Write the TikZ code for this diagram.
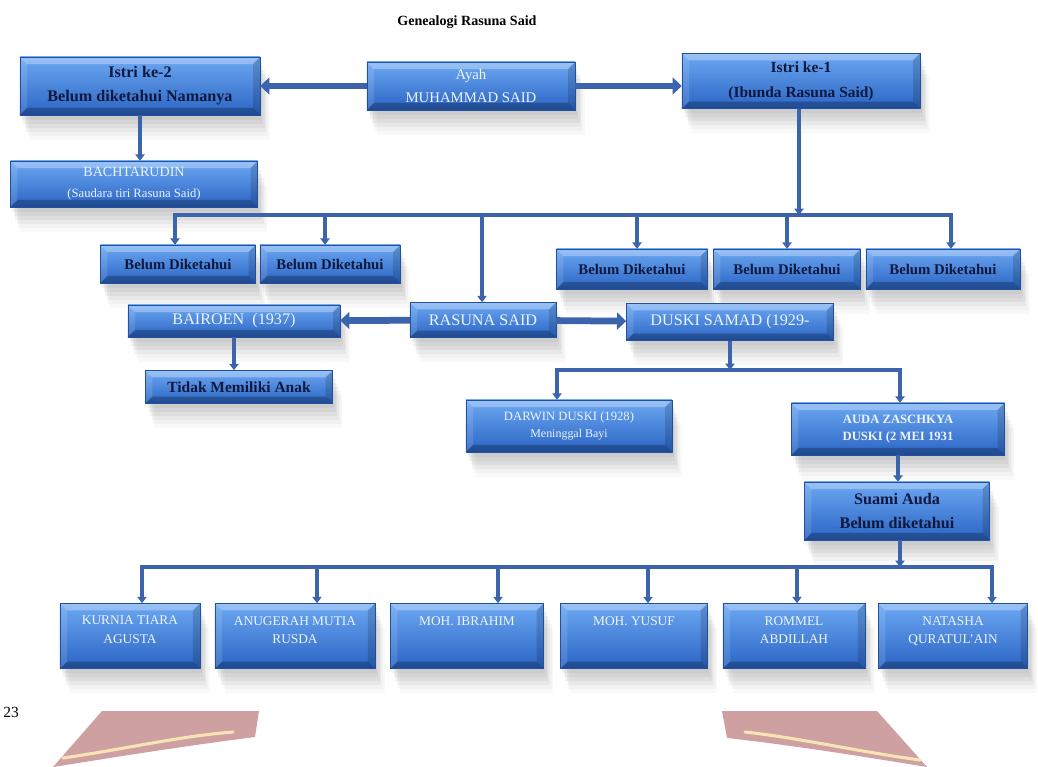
\documentclass[tikz,border=0pt]{standalone}
\usepackage{fontspec}
\setmainfont{Liberation Serif}
\usetikzlibrary{arrows.meta,shadows}
\definecolor{boxtop}{RGB}{108,168,242}
\definecolor{boxbot}{RGB}{42,100,196}
\definecolor{navy}{RGB}{16,24,62}
\definecolor{pale}{RGB}{238,243,252}
\definecolor{linkblue}{RGB}{60,100,172}
\definecolor{rose}{RGB}{206,160,162}
\definecolor{cream}{RGB}{246,228,180}
\newcommand{\bevel}{%
  \path (path picture bounding box.north west) coordinate (nw)
        (path picture bounding box.north east) coordinate (ne)
        (path picture bounding box.south west) coordinate (sw)
        (path picture bounding box.south east) coordinate (se);
  \fill[white,opacity=.3] (nw) -- (ne) -- ([shift={(-5pt,-5pt)}]ne) -- ([shift={(5pt,-5pt)}]nw) -- cycle;
  \fill[black,opacity=.25] (sw) -- (se) -- ([shift={(-5pt,5pt)}]se) -- ([shift={(5pt,5pt)}]sw) -- cycle;
  \fill[white,opacity=.12] (nw) -- ([shift={(5pt,-5pt)}]nw) -- ([shift={(5pt,5pt)}]sw) -- (sw) -- cycle;
  \fill[black,opacity=.15] (ne) -- ([shift={(-5pt,-5pt)}]ne) -- ([shift={(-5pt,5pt)}]se) -- (se) -- cycle;}

\begin{document}
\begin{tikzpicture}[x=0.025cm,y=-0.025cm,
    blk/.style={rectangle,inner sep=0pt,align=center,top color=boxtop,bottom color=boxbot,
      draw=boxbot!80!black,line width=.3pt,path picture={\bevel},
      drop shadow={shadow xshift=.04cm,shadow yshift=-.12cm,fill=black!60,opacity=.08},
      drop shadow={shadow xshift=.08cm,shadow yshift=-.22cm,fill=black!60,opacity=.08},
      drop shadow={shadow xshift=.12cm,shadow yshift=-.32cm,fill=black!60,opacity=.08},
      drop shadow={shadow xshift=.16cm,shadow yshift=-.42cm,fill=black!60,opacity=.07},
      drop shadow={shadow xshift=.2cm,shadow yshift=-.52cm,fill=black!60,opacity=.05},
      drop shadow={shadow xshift=.24cm,shadow yshift=-.62cm,fill=black!60,opacity=.04}},
    dk/.style={blk,text=navy,font=\bfseries\fontsize{10.5}{16}\selectfont},
    lt/.style={blk,text=pale,font=\fontsize{11}{15}\selectfont},
    kid/.style={lt,minimum height=1.63cm},
    kidtxt/.style={anchor=north,yshift=-.2cm,text=pale,align=center,font=\fontsize{9.5}{13.5}\selectfont},
    link/.style={draw=linkblue,line width=2.6pt,-{Triangle[width=6.5pt,length=4.5pt]}},
    bar/.style={draw=linkblue,line width=3.4pt,line cap=rect},
    fat/.style={draw=linkblue,line width=4.8pt,-{Triangle[width=12pt,length=6.5pt]}}]
            \useasboundingbox (0,0) rectangle (1038,767);

            \node[font=\bfseries\fontsize{10}{12}\selectfont] (T) at (467,22) {Genealogi Rasuna Said};
            \node[font=\fontsize{11}{13}\selectfont] (N) at (11,712) {23};

            \node[dk,minimum width=6cm,minimum height=1.45cm,font=\bfseries\fontsize{11.5}{17}\selectfont] (I2) at (140,86) {Istri ke-2\\Belum diketahui Namanya};
            \node[lt,minimum width=5.2cm,minimum height=1.2cm,font=\fontsize{10.5}{16}\selectfont] (AY) at (471,86) {Ayah\\MUHAMMAD SAID};
            \node[dk,minimum width=5.95cm,minimum height=1.38cm,font=\bfseries\fontsize{11}{18}\selectfont] (I1) at (801,81) {Istri ke-1\\(Ibunda Rasuna Said)};
            \node[lt,minimum width=6.18cm,minimum height=1.15cm,font=\fontsize{10}{15}\selectfont] (BA) at (134,184) {BACHTARUDIN\\{\fontsize{9}{15}\selectfont(Saudara tiri Rasuna Said)}};

            \node[dk,minimum width=3.88cm,minimum height=.95cm] (B1) at (178,264) {Belum Diketahui};
            \node[dk,minimum width=3.5cm,minimum height=.95cm] (B2) at (330,264) {Belum Diketahui};
            \node[dk,minimum width=3.78cm,minimum height=1cm] (B3) at (632,269) {Belum Diketahui};
            \node[dk,minimum width=3.68cm,minimum height=1cm] (B4) at (787,269) {Belum Diketahui};
            \node[dk,minimum width=3.85cm,minimum height=1cm] (B5) at (943,269) {Belum Diketahui};

            \node[lt,minimum width=3.65cm,minimum height=.88cm,font=\fontsize{11.5}{14}\selectfont] (RS) at (483,320) {RASUNA SAID};
            \node[lt,minimum width=5.3cm,minimum height=.8cm,font=\fontsize{11.5}{14}\selectfont] (BR) at (234,321) {BAIROEN\ \ (1937)};
            \node[dk,minimum width=4.68cm,minimum height=.83cm,font=\bfseries\fontsize{11}{14}\selectfont] (TM) at (239,387) {Tidak Memiliki Anak};
            \node[lt,minimum width=5.18cm,minimum height=.93cm,font=\fontsize{11.5}{14}\selectfont] (DS) at (730,322) {DUSKI SAMAD (1929-};

            \node[lt,minimum width=5.15cm,minimum height=1.3cm,font=\fontsize{9}{12.5}\selectfont] (DD) at (569,426) {DARWIN DUSKI (1928)\\{\fontsize{8.5}{12.5}\selectfont Meninggal Bayi}};
            \node[lt,minimum width=5.33cm,minimum height=1.3cm,font=\bfseries\fontsize{9}{12.5}\selectfont] (AZ) at (898,429) {AUDA ZASCHKYA\\DUSKI (2 MEI 1931};
            \node[dk,minimum width=4.63cm,minimum height=1.45cm,font=\bfseries\fontsize{11.5}{17}\selectfont] (SA) at (897,511) {Suami Auda\\Belum diketahui};

            \node[kid,minimum width=3.5cm,label={[kidtxt]north:KURNIA TIARA\\AGUSTA}] (K1) at (130,636) {};
            \node[kid,minimum width=4cm,label={[kidtxt]north:ANUGERAH MUTIA\\RUSDA}] (K2) at (295,636) {};
            \node[kid,minimum width=3.83cm,label={[kidtxt]north:MOH. IBRAHIM}] (K3) at (467,636) {};
            \node[kid,minimum width=3.68cm,label={[kidtxt]north:MOH. YUSUF}] (K4) at (634,636) {};
            \node[kid,minimum width=3.55cm,label={[kidtxt]north:ROMMEL\\ABDILLAH}] (K5) at (794,636) {};
            \node[kid,minimum width=3.73cm,label={[kidtxt]north:NATASHA\\QURATUL'AIN}] (K6) at (953,636) {};

            \coordinate (J1) at (799,215);
            \coordinate (P1) at (175,215);
            \coordinate (P2) at (325,215);
            \coordinate (P3) at (482,215);
            \coordinate (P4) at (637,215);
            \coordinate (P5) at (787,215);
            \coordinate (P6) at (951,215);
            \coordinate (Q0) at (730,370);
            \coordinate (Q1) at (557,370);
            \coordinate (Q2) at (900,370);
            \coordinate (R0) at (900,567);
            \coordinate (R1) at (142,567);
            \coordinate (R2) at (317,567);
            \coordinate (R3) at (498,567);
            \coordinate (R4) at (648,567);
            \coordinate (R5) at (797,567);
            \coordinate (R6) at (992,567);

            \path (AY) edge [fat] (I2);
            \path (AY.east) edge [fat] (AY.east -| I1.west);
            \path (I2.south) edge [link] (I2.south |- BA.north);
            \path (I1.south -| J1) edge [link] (J1);
            \draw [bar] (P1) -- (P6);
            \path (P1) edge [link] (P1 |- B1.north);
            \path (P2) edge [link] (P2 |- B2.north);
            \path (P3) edge [link] (P3 |- RS.north);
            \path (P4) edge [link] (P4 |- B3.north);
            \path (P5) edge [link] (P5 |- B4.north);
            \path (P6) edge [link] (P6 |- B5.north);

            \path (RS) edge [fat] (BR);
            \path (RS) edge [fat] (DS);
            \path (BR.south) edge [link] (BR.south |- TM.north);
            \path (DS.south) edge [link] (Q0);
            \draw [bar] (Q1) -- (Q2);
            \path (Q1) edge [link] (Q1 |- DD.north);
            \path (Q2) edge [link] (Q2 |- AZ.north);
            \path (AZ.south) edge [link] (AZ.south |- SA.north);

            \path (SA.south -| R0) edge [link] (R0);
            \draw [bar] (R1) -- (R6);
            \path (R1) edge [link] (R1 |- K1.north);
            \path (R2) edge [link] (R2 |- K2.north);
            \path (R3) edge [link] (R3 |- K3.north);
            \path (R4) edge [link] (R4 |- K4.north);
            \path (R5) edge [link] (R5 |- K5.north);
            \path (R6) edge [link] (R6 |- K6.north);

            \fill[rose] (102,711) -- (259,711) -- (255,737) .. controls (170,748) and (110,758) .. (53,767) -- cycle;
            \draw[cream,line width=2.2pt,line cap=round] (63,758) .. controls (120,750) and (180,736) .. (233,732);
            \fill[rose] (722,711) -- (877,711) -- (927,767) .. controls (860,756) and (790,745) .. (727,738) -- cycle;
            \draw[cream,line width=2.2pt,line cap=round] (745,732) .. controls (800,738) and (860,752) .. (920,760);
        \end{tikzpicture}
\end{document}
